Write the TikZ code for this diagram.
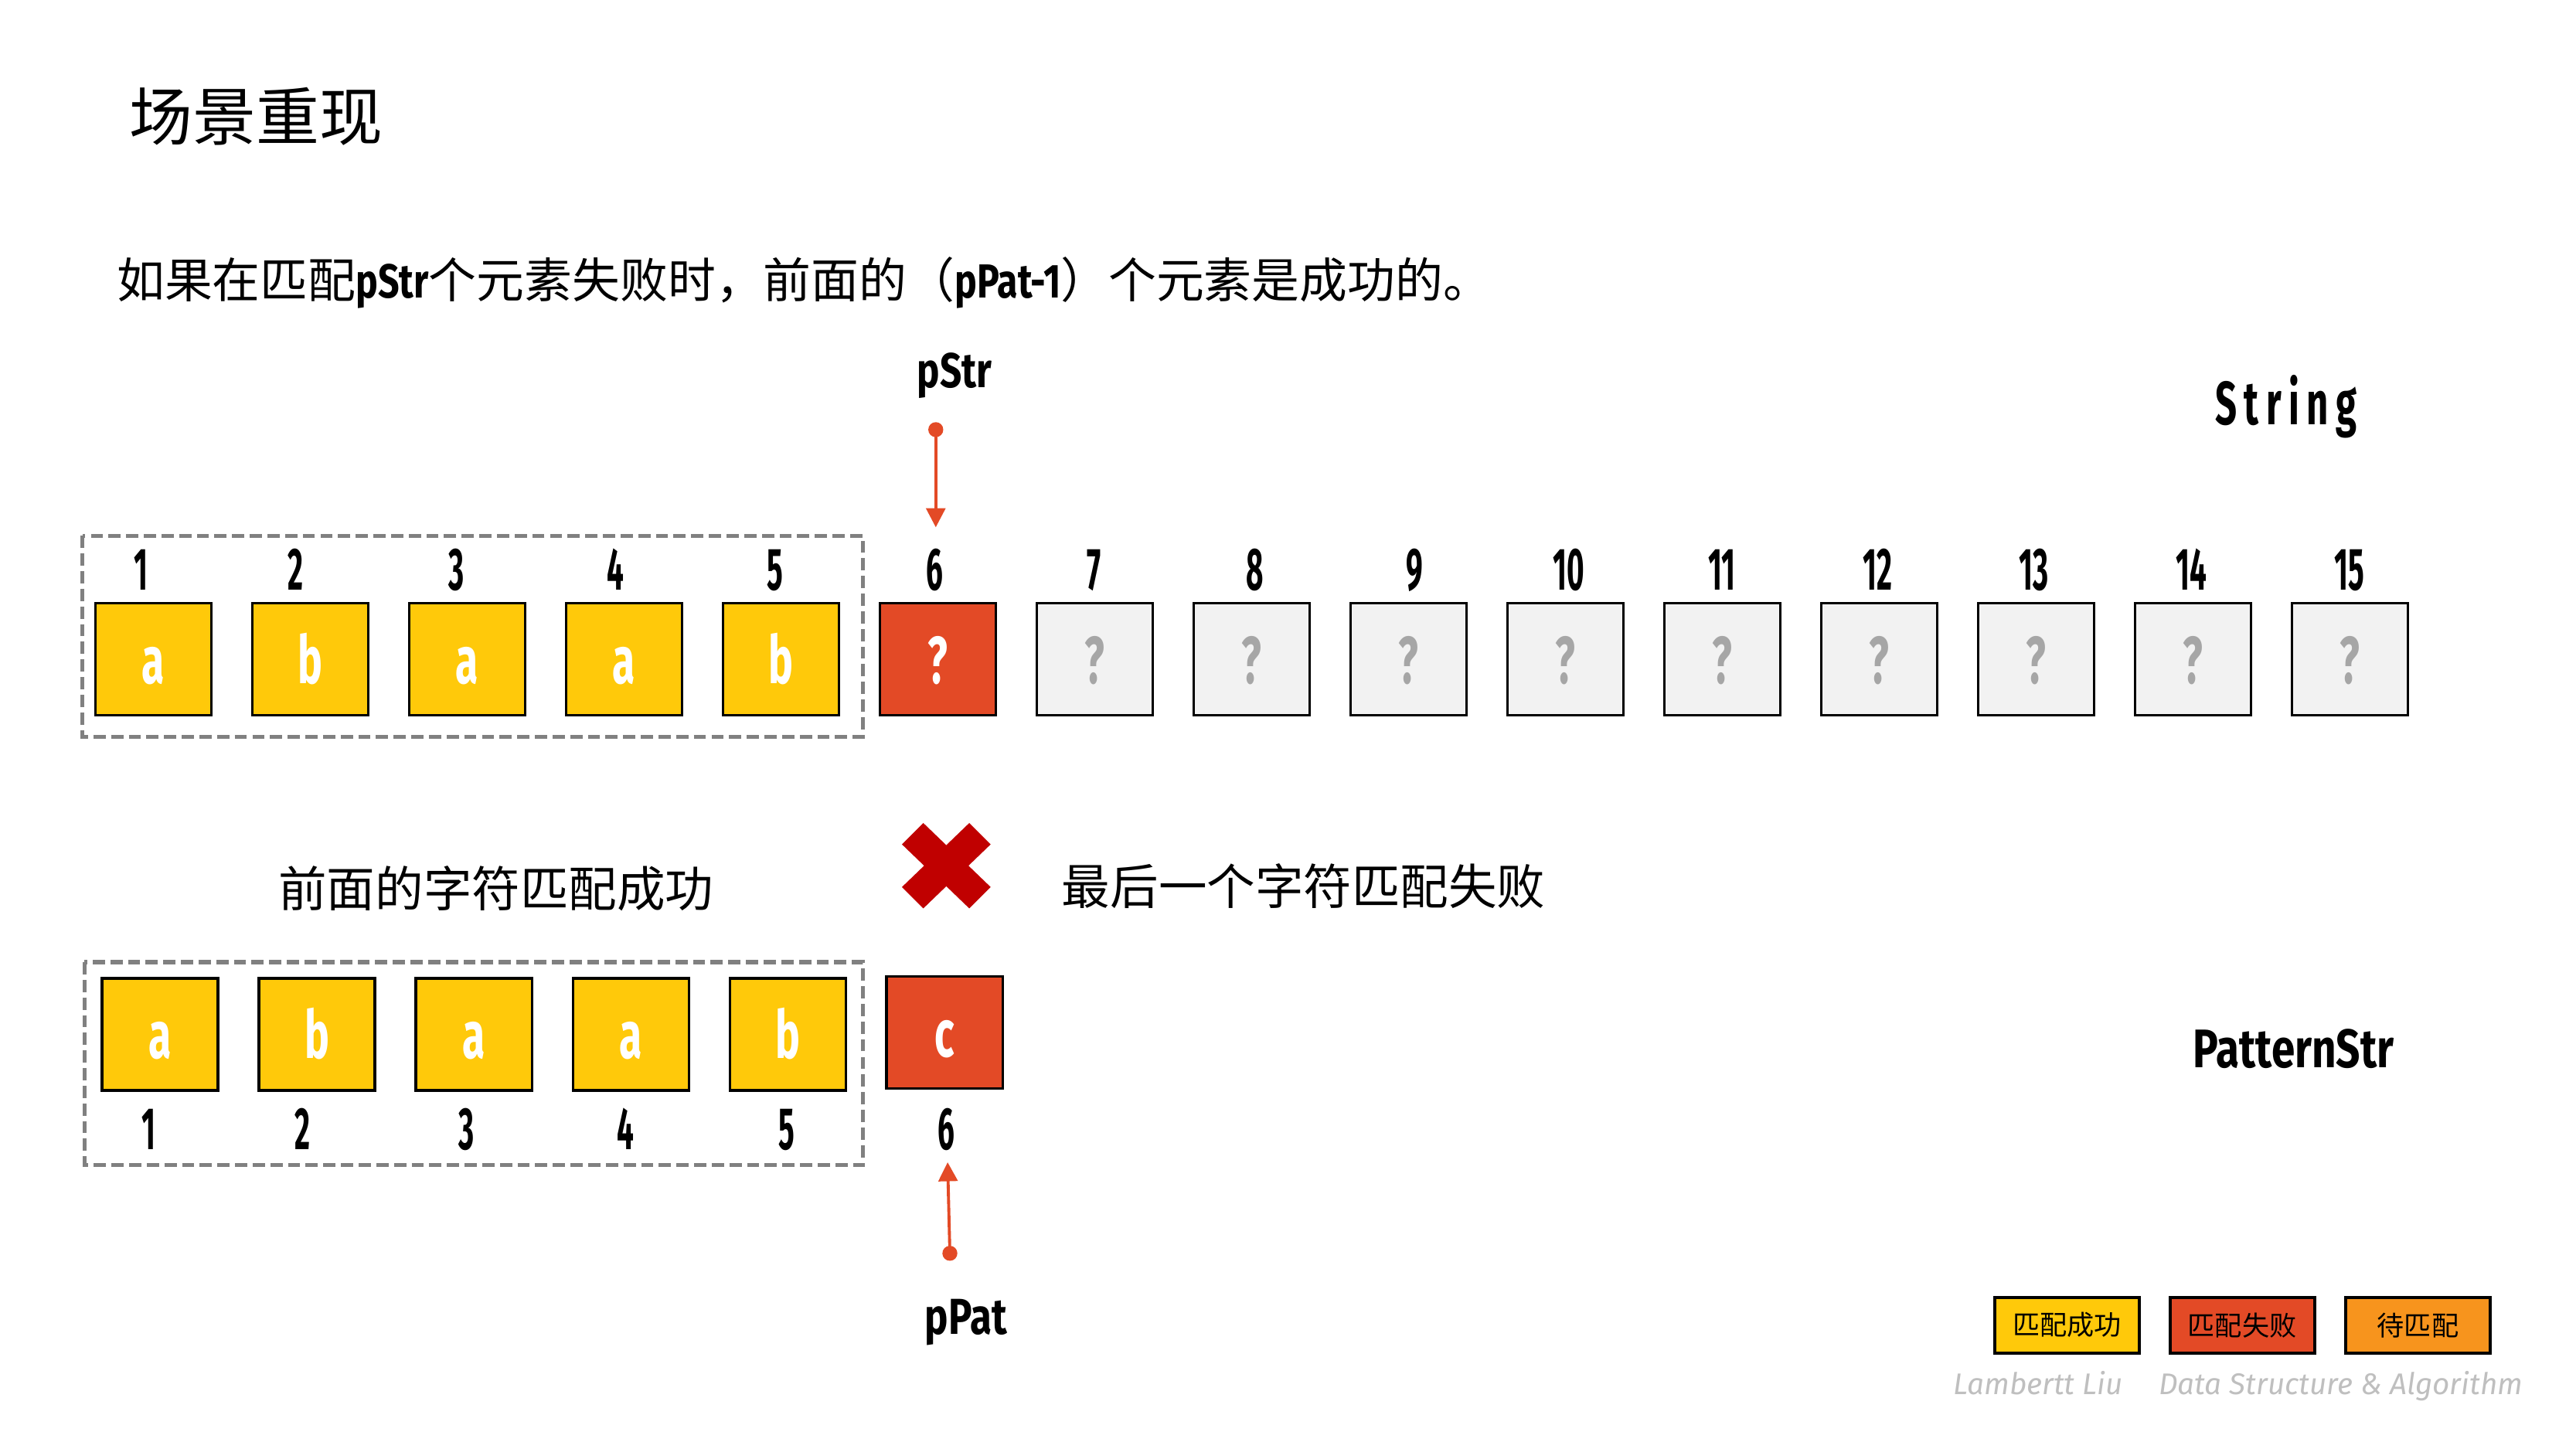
\documentclass[tikz,border=0pt]{standalone}
\usepackage{fontspec}
\setmainfont{Noto Sans CJK SC}
\newfontfamily\digf{Fira Sans}[FakeStretch=0.5]
\newfontfamily\boxf{Fira Sans}[FakeStretch=0.62]
\newfontfamily\latf{Fira Sans}[FakeStretch=0.78]
\newfontfamily\footf{Fira Sans}
\usetikzlibrary{arrows.meta}
\definecolor{cyel}{HTML}{FFC90A}
\definecolor{cred}{HTML}{E34A26}
\definecolor{corg}{HTML}{F7941D}
\definecolor{cgfill}{HTML}{F2F2F2}
\definecolor{cgq}{HTML}{A6A6A6}
\definecolor{cdash}{HTML}{808080}
\definecolor{cx}{HTML}{C00000}
\definecolor{cfoot}{HTML}{BFBFBF}
\begin{document}
\begin{tikzpicture}[x=0.021257cm,y=-0.021257cm,
 cell/.style={draw=black,line width=1pt,minimum width=1.5cm,minimum height=1.45cm,inner sep=0pt,text height=18pt,text depth=0pt,font=\boxf\bfseries\fontsize{24.5}{24.5}\selectfont},
 okcell/.style={cell,fill=cyel,text=white},
 badcell/.style={cell,fill=cred,text=white},
 waitcell/.style={cell,fill=cgfill,text=cgq},
 idx/.style={anchor=base,inner sep=0pt,font=\digf\bfseries\fontsize{22}{22}\selectfont},
 grp/.style={draw=cdash,line width=1.5pt,dash pattern=on 4.5pt off 2pt},
 ptr/.style={draw=cred,line width=1.1pt,{Circle[length=5.5pt]}-{Triangle[width=7pt,length=7pt]}},
 lbl/.style={anchor=base,inner sep=0pt,font=\latf\bfseries\fontsize{18}{18}\selectfont},
 cjk/.style={inner sep=0pt,font=\fontsize{17.8}{17.8}\selectfont},
 legend/.style={draw=black,line width=1.1pt,minimum width=1.87cm,minimum height=0.723cm,inner sep=0pt,font=\fontsize{10}{10}\selectfont},
 foot/.style={inner sep=0pt,text=cfoot,font=\footf\itshape\fontsize{11}{11}\selectfont},
]
\useasboundingbox (0,0) rectangle (1568,882);
% title and subtitle
\node[inner sep=0pt,font=\fontsize{23.3}{23.3}\selectfont] (title) at (156,71) {场景重现};
\node[anchor=base west,inner sep=0pt,font=\fontsize{17.6}{17.6}\selectfont] (sub) at (70.8,181.5)
 {如果在匹配{\latf\bfseries pStr}个元素失败时，前面的（{\latf\bfseries pPat-1}）个元素是成功的。};
% string row
\draw[grp] (50.2,326.2) rectangle (525.3,448.5);
\foreach \i/\c/\s in {1/a/okcell,2/b/okcell,3/a/okcell,4/a/okcell,5/b/okcell,6/?/badcell,
  7/?/waitcell,8/?/waitcell,9/?/waitcell,10/?/waitcell,11/?/waitcell,12/?/waitcell,13/?/waitcell,14/?/waitcell,15/?/waitcell}
  \node[\s] (s\i) at ({93.4+(\i-1)*95.5},401.4) {\c};
\foreach \i/\x in {1/86,2/180,3/278,4/374.7,5/471.7,6/569,7/666,8/764,9/861,10/955,11/1048,12/1143,13/1238,14/1334,15/1430}
  \node[idx] (sn\i) at (\x,359) {\i};
\node[lbl] (pstr) at (581,236) {pStr};
\coordinate (pstrS) at (569.6,257);
\coordinate (pstrE) at (569.6,321);
\draw[ptr] (pstrS) -- (pstrE);
\node[anchor=base,inner sep=0pt,font=\boxf\bfseries\fontsize{22.5}{22.5}\selectfont\addfontfeature{LetterSpace=12}] (strlbl) at (1391.6,258.4) {String};
% middle texts
\fill[cx,shift={(576,527)}] (-27,-13) -- (-14,-26) -- (0,-12.5) -- (14,-26) -- (27,-13) -- (13.5,0) -- (27,13) -- (14,26) -- (0,12.5) -- (-14,26) -- (-27,13) -- (-13.5,0) -- cycle;
\node[cjk] (okmsg) at (302,541) {前面的字符匹配成功};
\node[cjk] (badmsg) at (793.5,539.5) {最后一个字符匹配失败};
% pattern row
\draw[grp] (51.5,585.7) rectangle (525.4,709.1);
\foreach \i/\c/\s in {1/a/okcell,2/b/okcell,3/a/okcell,4/a/okcell,5/b/okcell}
  \node[\s] (p\i) at ({97.4+(\i-1)*95.55},629.6) {\c};
\node[badcell] (p6) at (575,628.6) {c};
\foreach \i/\x in {1/90.4,2/184.4,3/283.8,4/381,5/478.9,6/576}
  \node[idx] (pn\i) at (\x,700) {\i};
\coordinate (ppatS) at (578.3,767.5);
\coordinate (ppatE) at (576.8,707.5);
\draw[ptr] (ppatS) -- (ppatE);
\node[lbl,font=\latf\bfseries\fontsize{18.6}{18.6}\selectfont] (ppat) at (588,812) {pPat};
\node[lbl,font=\latf\bfseries\fontsize{20}{20}\selectfont] (patlbl) at (1396,650) {PatternStr};
% legend
\node[legend,fill=cyel] (lg1) at (1258.2,806.7) {匹配成功};
\node[legend,fill=cred] (lg2) at (1364.8,806.7) {匹配失败};
\node[legend,fill=corg] (lg3) at (1471.8,806.7) {待匹配};
% footer
\node[foot,anchor=base east] (auth) at (1292.5,849) {Lambertt Liu};
\node[foot,anchor=base west] (topic) at (1313.7,849) {Data Structure \& Algorithm};
\end{tikzpicture}
\end{document}
